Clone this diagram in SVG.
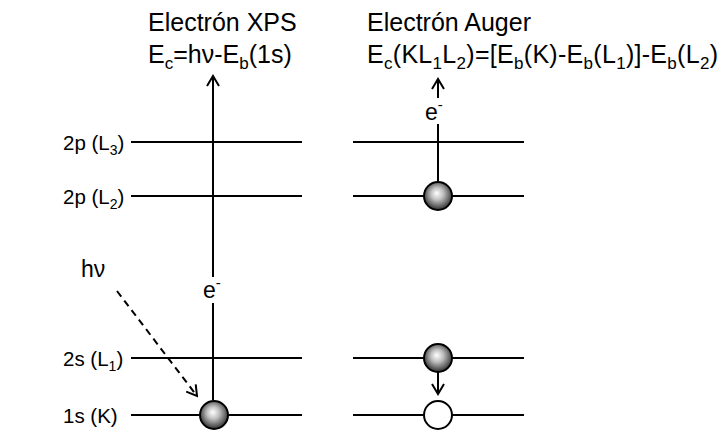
<svg xmlns="http://www.w3.org/2000/svg" width="723" height="434" viewBox="0 0 723 434">
<defs>
<radialGradient id="sph" cx="50%" cy="45%" r="55%" fx="45%" fy="40%">
<stop offset="0" stop-color="#ffffff"/>
<stop offset="0.4" stop-color="#c0c0c0"/>
<stop offset="1" stop-color="#2e2e2e"/>
</radialGradient>
<marker id="open" markerWidth="14" markerHeight="14" refX="12" refY="7" orient="auto" markerUnits="userSpaceOnUse">
<polyline points="2,1 12,7 2,13" fill="none" stroke="#000" stroke-width="2"/>
</marker>
</defs>
<style>
text{font-family:"Liberation Sans",Arial,sans-serif;fill:#000}
.t{font-size:25px}
.l{font-size:20.5px}
.e{font-size:23px}
.lv{stroke:#000;stroke-width:2;fill:none}
.c{stroke:#000;stroke-width:2;fill:none}
.ball{fill:url(#sph);stroke:#000;stroke-width:2}
.hole{fill:#fff;stroke:#000;stroke-width:2}
</style>
<rect width="723" height="434" fill="#fff"/>
<g id="title-xps">
<text class="t" x="148" y="31">Electrón XPS</text>
<text class="t" x="148" y="63">E<tspan font-size="17" dy="6">c</tspan><tspan dy="-6">=hν-E</tspan><tspan font-size="17" dy="6">b</tspan><tspan dy="-6">(1s)</tspan></text>
</g>
<g id="title-auger">
<text class="t" x="367" y="31">Electrón Auger</text>
<text class="t" x="367" y="63" textLength="351" lengthAdjust="spacing">E<tspan font-size="17" dy="6">c</tspan><tspan dy="-6">(KL</tspan><tspan font-size="17" dy="6">1</tspan><tspan dy="-6">L</tspan><tspan font-size="17" dy="6">2</tspan><tspan dy="-6">)=[E</tspan><tspan font-size="17" dy="6">b</tspan><tspan dy="-6">(K)-E</tspan><tspan font-size="17" dy="6">b</tspan><tspan dy="-6">(L</tspan><tspan font-size="17" dy="6">1</tspan><tspan dy="-6">)]-E</tspan><tspan font-size="17" dy="6">b</tspan><tspan dy="-6">(L</tspan><tspan font-size="17" dy="6">2</tspan><tspan dy="-6">)</tspan></text>
</g>
<g id="labels">
<text class="l" x="63" y="150">2p (L<tspan font-size="14" dy="5">3</tspan><tspan dy="-5">)</tspan></text>
<text class="l" x="63" y="204">2p (L<tspan font-size="14" dy="5">2</tspan><tspan dy="-5">)</tspan></text>
<text class="l" x="63" y="366">2s (L<tspan font-size="14" dy="5">1</tspan><tspan dy="-5">)</tspan></text>
<text class="l" x="63" y="423">1s (K)</text>
</g>
<g id="levels-xps">
<line class="lv" x1="131" y1="142" x2="302" y2="142"/>
<line class="lv" x1="131" y1="196" x2="302" y2="196"/>
<line class="lv" x1="131" y1="358" x2="302" y2="358"/>
<line class="lv" x1="131" y1="415" x2="302" y2="415"/>
</g>
<g id="levels-auger">
<line class="lv" x1="353" y1="142" x2="524" y2="142"/>
<line class="lv" x1="353" y1="196" x2="524" y2="196"/>
<line class="lv" x1="353" y1="358" x2="524" y2="358"/>
<line class="lv" x1="353" y1="415" x2="524" y2="415"/>
</g>
<g id="connectors">
<line class="c" x1="213" y1="400" x2="213" y2="303"/>
<line class="c" x1="213" y1="277" x2="213" y2="76" marker-end="url(#open)"/>
<line class="c" x1="117" y1="291" x2="197" y2="396" stroke-dasharray="7,5" marker-end="url(#open)"/>
<line class="c" x1="438" y1="181" x2="438" y2="124"/>
<line class="c" x1="438" y1="98" x2="438" y2="79" marker-end="url(#open)"/>
<line class="c" x1="438" y1="372" x2="438" y2="394" marker-end="url(#open)"/>
</g>
<g id="e-xps"><text class="e" x="203" y="298">e<tspan font-size="15" dy="-10">-</tspan></text></g>
<g id="e-auger"><text class="e" x="425" y="120">e<tspan font-size="15" dy="-10">-</tspan></text></g>
<g id="hv"><text class="e" x="81" y="277">hν</text></g>
<g id="electron-1s"><circle class="ball" cx="214" cy="415" r="14"/></g>
<g id="electron-2p"><circle class="ball" cx="438" cy="196" r="14"/></g>
<g id="electron-2s"><circle class="ball" cx="438" cy="358" r="14"/></g>
<g id="hole-1s"><circle class="hole" cx="438" cy="415" r="14"/></g>
</svg>
